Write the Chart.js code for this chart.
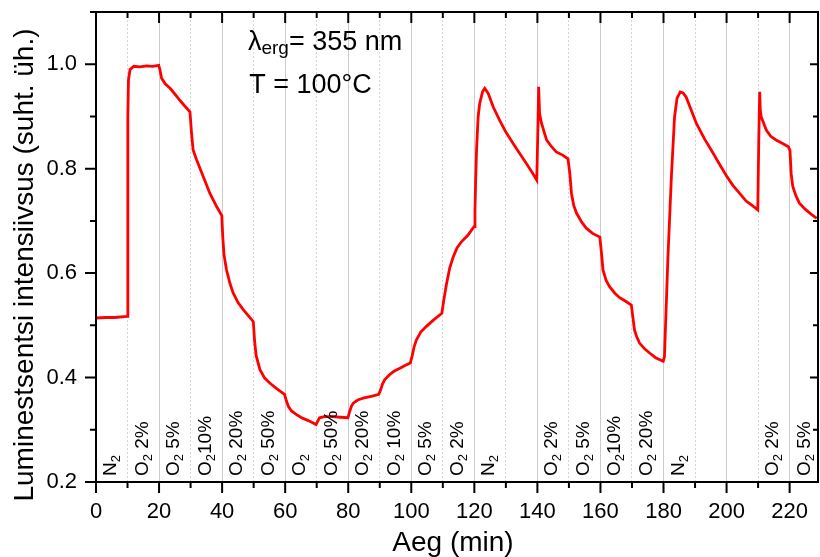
<!DOCTYPE html>
<html>
<head>
<meta charset="utf-8">
<script src="https://cdn.jsdelivr.net/npm/chart.js@4/dist/chart.umd.min.js"></script>
<style>
    html, body { margin: 0; padding: 0; background: #fff; }
    #chart { display: block; }
</style>
</head>
<body>
<canvas id="chart" width="820" height="557"></canvas>
<script>
// measured curve (time in min, luminescence in rel. units)
const timeMin = [
    0, 3, 6, 9.9, 10.1, 10.3, 10.8, 12, 14, 16, 18, 19.9,
    20.3, 20.8, 22, 23.5, 25, 26.6, 28, 29.8,
    30.3, 30.8, 31.9, 34, 36.1, 38.3, 39.9,
    40.2, 40.6, 41.4, 42.5, 43.5, 45, 46.7, 48.5, 49.9,
    50.3, 50.8, 52, 53.5, 55.2, 57.3, 59.8,
    60.4, 61, 62, 63.6, 65.2, 66.8, 68.3, 69.8,
    70.3, 70.9, 72.5, 75, 77.5, 79.9,
    80.5, 81, 81.6, 83, 85, 87.3, 89.7,
    90.3, 90.9, 91.6, 93, 94.5, 96.4, 98, 99.7,
    100.3, 100.9, 101.6, 103, 104.8, 107, 109.7,
    110.3, 110.8, 111.2, 112.2, 113.3, 114.5, 115.9, 118, 119.9,
    120.2, 120.4, 120.7, 121.2, 121.7, 122.6, 123.3, 124.4, 126, 128, 130, 132.3, 134.5, 136.5, 138.2, 139.8,
    140.1, 140.4, 140.7, 141.3, 142.9, 144.5, 146, 148, 149.7,
    150.3, 150.8, 151.5, 152.4, 154, 155.5, 157.5, 159.8,
    160.3, 160.8, 161.8, 162.9, 164.5, 166.1, 168, 169.8,
    170.4, 170.8, 171.5, 172.4, 174, 175.6, 177.5, 179.9,
    180.3, 181.4, 182.5, 183.5, 184.3, 185.3, 186.2, 187.2, 190.4, 193, 195.7, 198, 199.9, 202, 204.1, 206.2, 208, 209.9,
    210.2, 210.5, 210.7, 211, 212.6, 214, 215.7, 217.5, 219.6,
    220.1, 220.5, 221, 222, 223.1, 225, 227, 228.6
];
const intensity = [
    0.514, 0.515, 0.515, 0.517, 0.90, 0.97, 0.99, 0.996, 0.995, 0.997, 0.996, 0.998,
    0.989, 0.973, 0.962, 0.954, 0.943, 0.931, 0.921, 0.909,
    0.868, 0.836, 0.817, 0.785, 0.753, 0.727, 0.710,
    0.670, 0.635, 0.606, 0.580, 0.562, 0.544, 0.530, 0.517, 0.507,
    0.470, 0.442, 0.415, 0.399, 0.389, 0.379, 0.368,
    0.355, 0.345, 0.336, 0.329, 0.323, 0.319, 0.315, 0.310,
    0.316, 0.323, 0.325, 0.325, 0.324, 0.323,
    0.336, 0.345, 0.351, 0.357, 0.361, 0.364, 0.368,
    0.377, 0.388, 0.396, 0.405, 0.412, 0.418, 0.423, 0.428,
    0.442, 0.459, 0.472, 0.487, 0.498, 0.510, 0.523,
    0.548, 0.566, 0.580, 0.610, 0.631, 0.648, 0.660, 0.673, 0.689,
    0.720, 0.772, 0.836, 0.899, 0.925, 0.947, 0.954, 0.944, 0.918, 0.893, 0.870, 0.848, 0.828, 0.810, 0.794, 0.778,
    0.860, 0.957, 0.905, 0.887, 0.855, 0.842, 0.832, 0.826, 0.819,
    0.790, 0.753, 0.730, 0.715, 0.698, 0.686, 0.676, 0.669,
    0.640, 0.606, 0.586, 0.574, 0.562, 0.553, 0.546, 0.539,
    0.510, 0.491, 0.478, 0.466, 0.455, 0.447, 0.438, 0.431,
    0.440, 0.630, 0.785, 0.899, 0.935, 0.947, 0.945, 0.937, 0.887, 0.857, 0.830, 0.806, 0.787, 0.768, 0.753, 0.738, 0.730, 0.721,
    0.850, 0.947, 0.912, 0.899, 0.874, 0.862, 0.855, 0.849, 0.842,
    0.835, 0.790, 0.766, 0.748, 0.734, 0.722, 0.712, 0.705
];

// gas switched in at the start of each 10 min step
const gasStart = [0, 10, 20, 30, 40, 50, 60, 70, 80, 90, 100, 110, 120, 140, 150, 160, 170, 180, 210, 220];
const gasLabel = ['N2', 'O2 2%', 'O2 5%', 'O210%', 'O2 20%', 'O2 50%', 'O2', 'O2 50%', 'O2 20%', 'O2 10%',
    'O2 5%', 'O2 2%', 'N2', 'O2 2%', 'O2 5%', 'O210%', 'O2 20%', 'N2', 'O2 2%', 'O2 5%'];

const xMin = 0, xMax = 229, xStep = 10;
const yMin = 0.2, yMax = 1.1, yStep = 0.1;

const FONT = '"Liberation Sans", Arial, sans-serif';

function drawSubText(ctx, parts, x, y) {
    // parts: [text, size, dy]
    let w = 0;
    parts.forEach(([txt, size, dy]) => {
        ctx.font = size + 'px ' + FONT;
        ctx.fillText(txt, x + w, y + dy);
        w += ctx.measureText(txt).width;
    });
}

function drawGasLabel(ctx, text, x, y) {
    ctx.save();
    ctx.translate(x, y);
    ctx.rotate(-Math.PI / 2);
    drawSubText(ctx, [[text[0], 19, 0], [text[1], 13, 4], [text.slice(2), 19, 0]], 0, 0);
    ctx.restore();
}

const decorations = {
    id: 'decorations',
    afterDraw(chart) {
        const ctx = chart.ctx;
        const xs = chart.scales.x, ys = chart.scales.y;
        const a = chart.chartArea;
        ctx.save();
        ctx.fillStyle = '#000';
        ctx.strokeStyle = '#000';
        ctx.textAlign = 'left';
        ctx.textBaseline = 'alphabetic';

        // gas labels
        gasStart.forEach((t, i) => drawGasLabel(ctx, gasLabel[i], xs.getPixelForValue(t) + 20, a.bottom - 6));

        // annotation
        drawSubText(ctx, [['\u03bb', 27, 0], ['erg', 19, 4], ['= 355 nm', 27, 0]], xs.getPixelForValue(48.2), ys.getPixelForValue(1.027));
        drawSubText(ctx, [['T = 100\u00b0C', 27, 0]], xs.getPixelForValue(48.6), ys.getPixelForValue(0.945));

        // frame
        ctx.lineWidth = 2;
        ctx.strokeRect(a.left, a.top, a.right - a.left, a.bottom - a.top);

        // ticks: bottom/left outward, top/right inward
        ctx.beginPath();
        for (let t = xMin; t <= xMax; t += xStep) {
            const px = xs.getPixelForValue(t);
            const major = t % 20 === 0;
            ctx.moveTo(px, a.bottom); ctx.lineTo(px, a.bottom + (major ? 11 : 6));
            ctx.moveTo(px, a.top); ctx.lineTo(px, a.top + (major ? 11 : 6));
        }
        for (let k = 0; k <= Math.round((yMax - yMin) / yStep); k++) {
            const v = yMin + k * yStep;
            const py = ys.getPixelForValue(v);
            const major = k % 2 === 0;
            ctx.moveTo(a.left, py); ctx.lineTo(a.left - (major ? 11 : 6), py);
            ctx.moveTo(a.right, py); ctx.lineTo(a.right - (major ? 8 : 5), py);
        }
        ctx.stroke();

        // axis titles
        ctx.font = '28px ' + FONT;
        ctx.textAlign = 'center';
        ctx.fillText('Aeg (min)', (a.left + a.right) / 2 - 4, 551);
        ctx.translate(33, 265);
        ctx.rotate(-Math.PI / 2);
        ctx.fillText('Luminestsentsi intensiivsus (suht. üh.)', 0, 0);
        ctx.restore();
    }
};

function createChart() {
    const canvas = document.getElementById('chart');
    const points = timeMin.map((t, i) => ({ x: t, y: intensity[i] }));
    new Chart(canvas, {
        type: 'line',
        data: {
            datasets: [{
                data: points,
                borderColor: '#ff0000',
                borderWidth: 2.8,
                pointRadius: 0,
                tension: 0,
                fill: false
            }]
        },
        options: {
            responsive: false,
            animation: false,
            devicePixelRatio: 1,
            layout: { padding: { top: 12, right: 2, left: 0, bottom: 0 } },
            plugins: { legend: { display: false }, tooltip: { enabled: false } },
            scales: {
                x: {
                    type: 'linear',
                    min: xMin,
                    max: xMax,
                    afterFit: (s) => { s.height = 75; s.paddingLeft = 0; s.paddingRight = 0; },
                    ticks: {
                        stepSize: xStep,
                        includeBounds: false,
                        autoSkip: false,
                        maxRotation: 0,
                        padding: 17,
                        color: '#000',
                        font: { family: FONT, size: 22 },
                        callback: (v) => (v % 20 === 0 ? String(v) : '')
                    },
                    grid: {
                        drawTicks: false,
                        lineWidth: 1,
                        color: (c) => (c.tick && c.tick.value % 20 !== 0 ? '#d6d6d6' : '#cccccc')
                    },
                    border: {
                        display: false,
                        dash: (c) => (c.tick && c.tick.value % 20 !== 0 ? [2, 2] : [])
                    }
                },
                y: {
                    min: yMin,
                    max: yMax,
                    afterFit: (s) => { s.width = 96; s.paddingTop = 0; s.paddingBottom = 0; },
                    ticks: {
                        stepSize: yStep,
                        includeBounds: false,
                        padding: 19,
                        color: '#000',
                        font: { family: FONT, size: 22 },
                        callback: (v) => (Math.round(v * 10) % 2 === 0 && v < 1.05 ? v.toFixed(1) : '')
                    },
                    grid: { display: false, drawTicks: false },
                    border: { display: false }
                }
            }
        },
        plugins: [decorations]
    });
}

createChart();
</script>
</body>
</html>
